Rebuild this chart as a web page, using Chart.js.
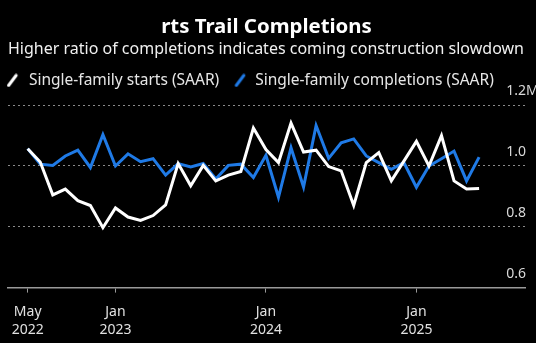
<!DOCTYPE html>
<html>
<head>
<meta charset="utf-8">
<script src="https://cdn.jsdelivr.net/npm/chart.js@4.4.1/dist/chart.umd.min.js"></script>
<style>
  html, body { margin: 0; padding: 0; background: #000; }
  canvas { display: block; }
</style>
</head>
<body>
<canvas id="startsChart" width="536" height="343"></canvas>
<script>
// monthly, May 2022 - May 2025, millions of units (SAAR)
const months = [
  "2022-05", "2022-06", "2022-07", "2022-08", "2022-09", "2022-10", "2022-11", "2022-12",
  "2023-01", "2023-02", "2023-03", "2023-04", "2023-05", "2023-06", "2023-07", "2023-08",
  "2023-09", "2023-10", "2023-11", "2023-12", "2024-01", "2024-02", "2024-03", "2024-04",
  "2024-05", "2024-06", "2024-07", "2024-08", "2024-09", "2024-10", "2024-11", "2024-12",
  "2025-01", "2025-02", "2025-03", "2025-04", "2025-05"
];
const starts = [
  1.057, 1.013, 0.905, 0.924, 0.886, 0.870, 0.797, 0.862, 0.832, 0.821, 0.837, 0.872,
  1.008, 0.935, 1.002, 0.951, 0.970, 0.982, 1.125, 1.054, 1.011, 1.141, 1.046, 1.052,
  0.998, 0.984, 0.870, 1.011, 1.044, 0.951, 1.016, 1.081, 1.000, 1.100, 0.951, 0.924, 0.926
];
const completions = [
  1.057, 1.006, 1.002, 1.033, 1.052, 0.995, 1.103, 1.000, 1.040, 1.014, 1.024, 0.970,
  1.008, 0.997, 1.008, 0.957, 1.002, 1.006, 0.962, 1.035, 0.897, 1.060, 0.931, 1.133,
  1.025, 1.076, 1.089, 1.033, 1.011, 0.989, 1.011, 0.930, 1.000, 1.024, 1.049, 0.951, 1.029
];
const yTicks = [0.6, 0.8, 1.0, 1.2];
// year ticks sit at the end of December (month points are month-end values)
const xTickIndex = [0, 7, 19, 31];
const xTickLabels = [["May", "2022"], ["Jan", "2023"], ["Jan", "2024"], ["Jan", "2025"]];

const WHITE = "#ffffff";
const BLUE = "#1f7ae6";
const FONT = "'Noto Sans', sans-serif";

// little slanted strokes used as legend markers
function slash(color, offset) {
  const c = document.createElement("canvas");
  c.width = 36;
  c.height = 14;
  const g = c.getContext("2d");
  g.strokeStyle = color;
  g.lineWidth = 3;
  g.lineCap = "round";
  g.beginPath();
  g.moveTo(offset + 1, 12);
  g.lineTo(offset + 8.5, 2);
  g.stroke();
  return c;
}

const toPoints = arr => arr.map((v, i) => ({x: i, y: v}));

// value labels sit above the dotted lines, right aligned
const yLabels = {
  id: "yLabels",
  afterDraw(chart) {
    const {ctx, scales: {y}} = chart;
    ctx.save();
    ctx.font = "14px " + FONT;
    ctx.fillStyle = "#d9d9d9";
    ctx.textBaseline = "middle";
    yTicks.forEach(v => {
      const py = y.getPixelForValue(v) - 14;
      ctx.textAlign = "right";
      ctx.fillText(v.toFixed(1), 526, py);
      if (v === yTicks[yTicks.length - 1]) {
        ctx.textAlign = "left";
        ctx.fillText("M", 526, py);
      }
    });
    ctx.restore();
  }
};

new Chart("startsChart", {
  type: "line",
  data: {
    labels: months,
    datasets: [
      {
        label: "Single-family starts (SAAR)",
        data: toPoints(starts),
        borderColor: WHITE,
        backgroundColor: WHITE,
        borderWidth: 3,
        pointRadius: 0,
        pointStyle: slash(WHITE, 11.5),
        tension: 0,
      },
      {
        label: "Single-family completions (SAAR)",
        data: toPoints(completions),
        borderColor: BLUE,
        backgroundColor: BLUE,
        borderWidth: 3,
        pointRadius: 0,
        pointStyle: slash(BLUE, 13),
        tension: 0,
      },
    ],
  },
  options: {
    responsive: false,
    animation: false,
    layout: { padding: { left: -7, right: 11, top: 0, bottom: -6 } },
    plugins: {
      title: {
        display: true,
        fullSize: false,
        text: "rts Trail Completions",
        color: WHITE,
        font: { family: FONT, size: 20.4, weight: "bold", lineHeight: 1.2 },
        padding: { top: 15, bottom: 0 },
      },
      subtitle: {
        display: true,
        fullSize: false,
        text: "Higher ratio of completions indicates coming construction slowdown",
        color: "#f0f0f0",
        align: "start",
        font: { family: FONT, size: 16, lineHeight: 1.2 },
        padding: { top: 0, bottom: 0 },
      },
      legend: {
        align: "start",
        labels: {
          color: "#e6e6e6",
          font: { family: FONT, size: 15.5 },
          usePointStyle: true,
          pointStyleWidth: 14.2,
          padding: 14,
        },
      },
      tooltip: { enabled: false },
    },
    scales: {
      x: {
        type: "linear",
        min: -1.57,
        max: 39.66,
        afterBuildTicks: axis => {
          axis.ticks = xTickIndex.map(v => ({value: v}));
        },
        ticks: {
          color: "#e0e0e0",
          font: { family: FONT, size: 14, lineHeight: 1.3 },
          padding: 10,
          maxRotation: 0,
          autoSkip: false,
          callback: value => xTickLabels[xTickIndex.indexOf(value)],
        },
        grid: { drawOnChartArea: false, drawTicks: true, tickLength: 5, color: "#9a9a9a" },
        border: { display: true, color: "#9a9a9a", width: 1.5 },
      },
      y: {
        position: "left",
        min: 0.6,
        max: 1.223,
        afterFit: axis => {
          axis.width = 15;
        },
        afterBuildTicks: axis => {
          axis.ticks = yTicks.map(v => ({value: v}));
        },
        ticks: { display: false },
        grid: {
          drawTicks: false,
          color: ctx => (ctx.tick && ctx.tick.value === 0.6 ? "rgba(0,0,0,0)" : "#8a8a8a"),
        },
        border: { display: false, dash: [2, 3] },
      },
    },
  },
  plugins: [yLabels],
});
</script>
</body>
</html>
